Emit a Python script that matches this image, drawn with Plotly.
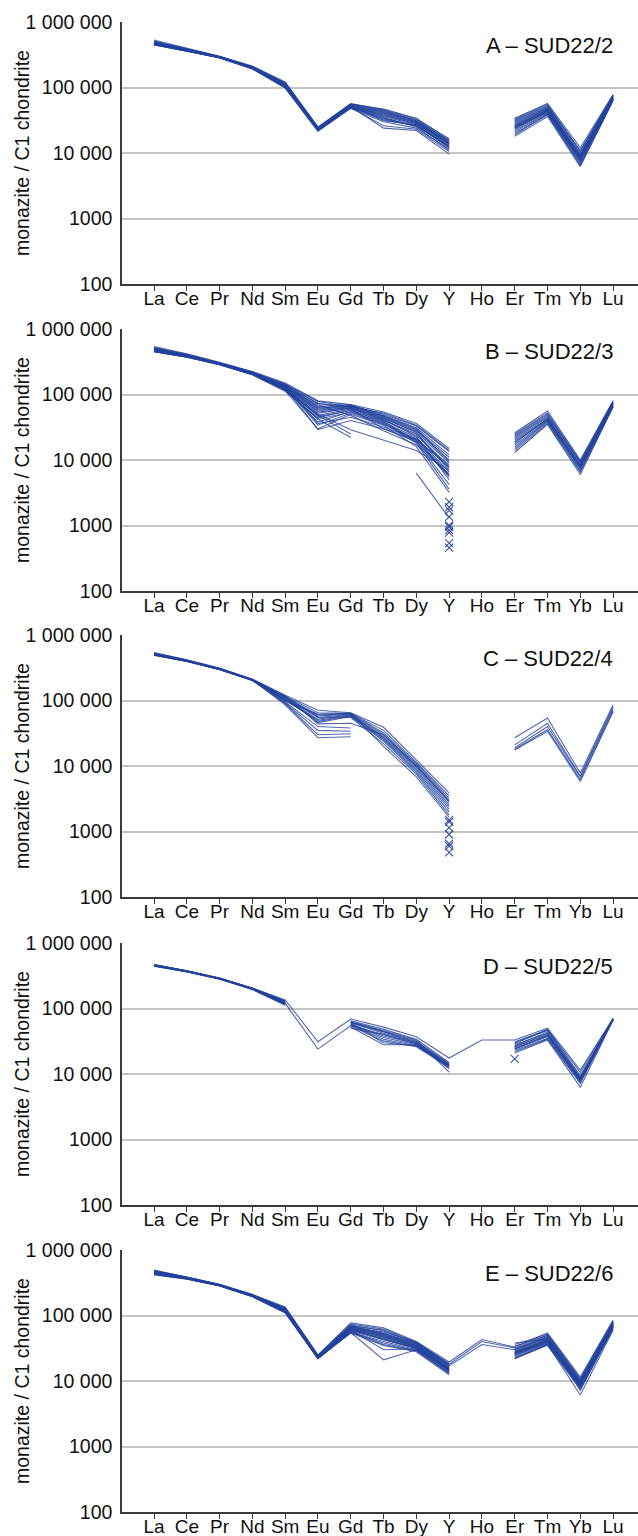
import plotly.graph_objects as go

# Chondrite-normalised REE + Y patterns of monazite, five samples.
ELEMENTS = ["La", "Ce", "Pr", "Nd", "Sm", "Eu", "Gd", "Tb", "Dy", "Y",
            "Ho", "Er", "Tm", "Yb", "Lu"]

Y_TICK_VALUES = [100, 1000, 10000, 100000, 1000000]
Y_TICK_LABELS = ["100", "1000", "10 000", "100 000", "1 000 000"]

SAMPLE_LABELS = ["A – SUD22/2", "B – SUD22/3", "C – SUD22/4",
                 "D – SUD22/5", "E – SUD22/6"]

# Normalised values in thousands; None = not determined.
# order: La Ce Pr Nd Sm Eu Gd Tb Dy Y Ho Er Tm Yb Lu
N = None
SUD22_2 = [
    [470, 372, 290, 200, 108, 23, 52, 38, 28, 13.5, N, 26, 45, 8.5, 70],
    [455, 365, 286, 196, 102, 22, 50, 34, 26, 12.5, N, 24, 42, 8.0, 68],
    [500, 385, 296, 206, 115, 24, 55, 42, 30, 14.5, N, 28, 48, 9.0, 72],
    [530, 395, 300, 212, 122, 25, 57, 46, 33, 16.5, N, 33, 55, 10.5, 77],
    [445, 360, 282, 192, 98, 21.5, 48, 30, 24, 11.5, N, 21, 40, 7.2, 66],
    [480, 375, 292, 202, 110, 23.5, 53, 40, 29, 14, N, 27, 47, 8.8, 71],
    [465, 370, 288, 198, 105, 22.5, 51, 36, 27, 13, N, 25, 44, 8.2, 69],
    [490, 380, 294, 204, 112, 24, 54, 44, 31, 15, N, 30, 50, 9.5, 74],
    [450, 362, 284, 194, 100, 22, 49, 26, 23, 10.5, N, 19, 39, 6.5, 64],
    [475, 373, 291, 201, 109, 23, 52, 37, 28, 13.8, N, 25, 46, 8.6, 70],
    [460, 368, 287, 197, 104, 22.5, 50, 33, 26, 12.8, N, 23, 43, 7.8, 67],
    [510, 388, 297, 208, 118, 24.5, 56, 45, 32, 15.5, N, 31, 52, 10, 75],
    [470, 371, 289, 199, 107, 23, 52, 31, 27, 12, N, 22, 41, 7.5, 68],
    [485, 378, 293, 203, 111, 23.5, 53, 41, 30, 14.2, N, 29, 49, 9.2, 73],
    [458, 366, 285, 195, 103, 22, 50, 35, 25, 11, N, 20, 38, 6.8, 65],
    [495, 383, 295, 205, 114, 24, 55, 43, 31, 15.2, N, 32, 53, 11, 76],
    [468, 370, 289, 199, 106, 22.8, 51, 24, 22, 9.6, N, 18, 36, 6.2, 63],
    [478, 376, 292, 201, 110, 23.2, 52, 39, 29, 14, N, 26, 45, 8.4, 70],
    [452, 363, 284, 193, 100, 21.8, 49, 32, 26, 12.2, N, 24, 43, 7.6, 67],
    [505, 386, 297, 207, 117, 24.2, 56, 47, 34, 16, N, 34, 57, 12, 78],
]

SUD22_3 = [
    [540, 420, 310, 225, 150, 80, 70, 54, 36, 15, N, 26, 56, 10, 80],
    [520, 410, 305, 220, 145, 72, 68, 50, 33, 13.5, N, 24, 50, 9.0, 76],
    [500, 400, 300, 216, 140, 66, 69, 48, 31, 12, N, 22, 46, 8.6, 74],
    [490, 395, 298, 214, 135, 62, 67, 46, 29, 11, N, 21, 44, 8.3, 72],
    [480, 390, 295, 210, 130, 60, 66, 45, 28, 10, N, 20, 42, 8.0, 71],
    [470, 385, 292, 208, 126, 56, 64, 43, 27, 9, N, 19, 41, 7.8, 70],
    [460, 380, 290, 205, 122, 52, 62, 41, 25, 8, N, 17, 40, 7.5, 68],
    [455, 375, 288, 203, 118, 48, 60, 40, 24, 7.5, N, 16, 39, 7.2, 67],
    [450, 370, 285, 200, 112, 44, 58, 38, 22, 6.5, N, 15, 38, 6.8, 66],
    [465, 382, 291, 206, 124, 38, 55, 36, 21, 6, N, 14, 36, 6.5, 65],
    [475, 388, 294, 209, 128, 34, 52, 35, 20, 5.5, N, 13, 35, 6.0, 65],
    [510, 402, 302, 218, 142, 64, 66, 47, 30, 9.5, N, 23, 48, 9.2, 78],
    [495, 396, 299, 213, 133, 58, 63, 44, 26, 7, N, 18, 43, 8.1, 73],
    [485, 392, 296, 211, 131, 54, 61, 42, 23, 5, N, N, N, N, N],
    [470, 386, 293, 207, 127, 46, 57, 39, 19, 4.2, N, N, N, N, N],
    [460, 379, 290, 204, 121, 42, 54, 37, 18, 3.6, N, N, N, N, N],
    [450, 372, 286, 201, 115, 30, 50, 34, 16, 3.2, N, N, N, N, N],
    [500, 398, 300, 214, 136, 74, 60, 30, 20, 8.5, N, N, N, N, N],
    [480, 389, 295, 209, 129, 70, 48, 28, 17, 6, N, N, N, N, N],
    [465, 381, 291, 205, 123, 48, 25, N, N, N, N, N, N, N, N],
    [455, 376, 288, 202, 117, 42, 22, N, N, N, N, N, N, N, N],
    [470, 384, 292, 206, 125, 50, 29, 20, 14, 7, N, N, N, N, N],
    [490, 394, 297, 212, 134, 36, 45, 32, 21, 7.8, N, N, N, N, N],
    [515, 405, 303, 219, 144, 78, 65, 52, 34, 14, N, 25, 52, 9.6, 79],
    [475, 387, 293, 208, 128, 29, 40, 30, 19, 5.8, N, N, N, N, N],
    [N, N, N, N, N, N, N, N, 6.3, 1.3, N, N, N, N, N],
]
SUD22_3_Y_BDL = [2.3, 1.9, 1.7, 1.35, 1.0, 0.95, 0.85, 0.78, 0.54, 0.46]

SUD22_4 = [
    [540, 420, 312, 212, 120, 71, 65, 39, 12.4, 3.9, N, 27, 54, 7.8, 86],
    [530, 415, 308, 210, 116, 65, 64, 35, 11.5, 3.5, N, 21, 45, 7.0, 80],
    [520, 410, 305, 208, 112, 60, 63, 32, 11, 3.2, N, 19, 40, 6.8, 75],
    [510, 405, 302, 206, 108, 58, 62, 30, 10.5, 3.0, N, 18, 36, 6.2, 70],
    [500, 400, 300, 205, 105, 55, 61, 28, 10, 2.8, N, 17.5, 34, 5.8, 67],
    [495, 398, 298, 204, 102, 52, 60, 27, 9.5, 2.6, N, N, N, N, N],
    [490, 395, 296, 203, 100, 50, 59, 26, 9, 2.4, N, N, N, N, N],
    [505, 402, 301, 205, 104, 48, 58, 25, 8.5, 2.2, N, N, N, N, N],
    [515, 408, 304, 207, 110, 46, 57, 24, 8, 2.0, N, N, N, N, N],
    [525, 412, 306, 209, 114, 56, 55, 22, 7.5, 1.8, N, N, N, N, N],
    [500, 400, 300, 205, 98, 62, 64, 20, 6.8, 1.65, N, N, N, N, N],
    [520, 409, 305, 208, 118, 44, 45, 30, 10, 2.9, N, N, N, N, N],
    [495, 397, 299, 204, 95, 40, 38, N, N, N, N, N, N, N, N],
    [490, 394, 297, 202, 92, 35, 34, N, N, N, N, N, N, N, N],
    [510, 404, 302, 206, 90, 30, 31, N, N, N, N, N, N, N, N],
    [500, 399, 300, 204, 86, 27, 28, N, N, N, N, N, N, N, N],
]
SUD22_4_Y_BDL = [1.5, 1.4, 1.15, 0.9, 0.65, 0.6, 0.48]

SUD22_5 = [
    [470, 378, 292, 205, 135, 31, 69, 52, 37, 17.5, 33, 33, 50, 11.5, 70],
    [455, 370, 286, 200, 120, 24, 55, 40, 30, 14, N, 28, 42, 8.5, 69],
    [460, 372, 288, 202, 125, N, 65, 48, 34, 15, N, 30, 46, 9, 69],
    [450, 366, 284, 198, 118, N, 62, 45, 32, 14.5, N, 27, 44, 8.7, 69],
    [465, 374, 289, 203, 128, N, 60, 42, 31, 14, N, 26, 40, 8.2, 69],
    [445, 364, 282, 196, 115, N, 58, 38, 29, 13.5, N, 25, 38, 8, 69],
    [458, 370, 287, 201, 122, N, 57, 36, 28, 13, N, 24, 37, 7.8, 68],
    [462, 373, 288, 202, 126, N, 56, 34, 27, 12.8, N, 23, 35, 7.5, 68],
    [448, 365, 283, 197, 116, N, 54, 32, 26, 12.5, N, 22, 34, 7.2, 68],
    [470, 377, 291, 204, 130, N, 59, 30, 27, 13.2, N, 21, 33, 6.3, 67],
    [452, 367, 285, 199, 119, N, 52, 28, 28, 13.8, N, 29, 48, 10.5, 70],
    [456, 369, 286, 200, 121, N, 61, 44, 30, 12, N, 26, 41, 8.4, 69],
    [466, 375, 290, 204, 131, N, 63, 46, 33, 10.7, N, 31, 47, 9.5, 70],
    [444, 362, 281, 195, 112, N, 50, 40, 29, 13.6, N, 24, 39, 8.1, 69],
]
SUD22_5_ER_BDL = [17]

SUD22_6 = [
    [495, 390, 300, 210, 135, 25, 77, 65, 40, 19.5, 43, 33, 54, 11.5, 85],
    [480, 384, 296, 206, 130, 24.5, 72, 58, 38, 18, 40, 32, 50, 10.5, 80],
    [470, 380, 294, 204, 128, 24, 70, 54, 37, 17, 36, 30, 48, 10, 78],
    [460, 376, 292, 202, 125, 23.5, 68, 52, 36, 16.5, N, 29, 46, 9.5, 76],
    [455, 374, 290, 201, 122, 23, 66, 50, 35, 16, N, 28, 44, 9.2, 74],
    [450, 372, 289, 200, 120, 23, 64, 48, 34, 15.5, N, 27, 42, 9, 72],
    [445, 370, 288, 199, 118, 22.5, 62, 46, 33, 15, N, 26, 40, 8.7, 70],
    [440, 368, 287, 198, 116, 22.5, 60, 44, 32, 14.5, N, 25, 39, 8.5, 68],
    [435, 366, 286, 197, 114, 22, 58, 42, 31, 14, N, 24, 38, 8.2, 66],
    [430, 364, 285, 196, 112, 22, 56, 40, 30, 13.5, N, 23, 37, 8, 64],
    [425, 362, 284, 195, 110, 22, 55, 38, 29, 13, N, 22, 35, 7.5, 62],
    [415, 358, 282, 193, 110, 22, 54, 35, 28, 12.4, N, 22, 36, 6.1, 60],
    [475, 382, 295, 205, 127, 24, 66, 56, 39, 17.5, N, 31, 47, 9.8, 77],
    [465, 378, 293, 203, 124, 23.5, 67, 53, 37, 16.8, N, 30, 45, 9.4, 75],
    [458, 375, 291, 202, 122, 23, 65, 51, 35, 15.8, N, 28, 43, 9.1, 73],
    [448, 371, 289, 200, 119, 22.8, 63, 49, 34, 15.2, N, 27, 41, 8.8, 71],
    [442, 369, 288, 199, 117, 22.5, 61, 47, 33, 14.8, N, 26, 40, 8.6, 69],
    [438, 367, 287, 198, 115, 22.3, 59, 45, 32, 14.2, N, 25, 39, 8.4, 67],
    [452, 373, 290, 201, 121, 23, 55, 21, 30, 14.6, N, 26, 41, 8.9, 71],
    [462, 377, 292, 202, 123, 23.2, 60, 30, 31, 15.1, N, 27, 42, 9, 72],
    [472, 381, 294, 204, 126, 23.8, 69, 60, 38, 17.8, N, 34, 50, 10.2, 79],
    [485, 386, 297, 207, 131, 24.2, 74, 62, 39, 18.5, N, 36, 52, 11, 82],
    [430, 364, 285, 196, 111, 22, 57, 36, 29, 13.2, N, 38, 44, 7.2, 65],
    [458, 374, 291, 201, 121, 23, 62, 43, 32, 14.4, N, 22, 36, 7.8, 68],
]

THOUSAND = 1000

PANELS = [
    (SUD22_2, None, None),
    (SUD22_3, "Y", SUD22_3_Y_BDL),
    (SUD22_4, "Y", SUD22_4_Y_BDL),
    (SUD22_5, "Er", SUD22_5_ER_BDL),
    (SUD22_6, None, None),
]

# ---- layout geometry (pixels) ----
W, H = 638, 1536
PLOT_LEFT = 122
PANEL_TOPS = [22, 329, 635, 943, 1250]
PANEL_H = 262

LINE_COLOR = "rgba(36,66,156,0.8)"
MARK_COLOR = "rgba(36,66,156,0.9)"
AXIS_COLOR = "#3a3a3a"
GRID_COLOR = "#c4c4c4"
FONT = "Liberation Sans, Arial, Helvetica, sans-serif"

fig = go.Figure()

layout = dict(
    width=W, height=H,
    margin=dict(l=0, r=0, t=0, b=0, autoexpand=False),
    paper_bgcolor="white", plot_bgcolor="white",
    showlegend=False,
    font=dict(family=FONT, size=19, color="#111111"),
    annotations=[],
)

for i, (rows, bdl_elem, bdl_vals) in enumerate(PANELS):
    n = i + 1
    xa = "x" if n == 1 else f"x{n}"
    ya = "y" if n == 1 else f"y{n}"
    for row in rows:
        fig.add_trace(go.Scatter(
            x=ELEMENTS,
            y=[v * THOUSAND if v is not None else None for v in row],
            mode="lines", line=dict(color=LINE_COLOR, width=1.1),
            connectgaps=False, hoverinfo="skip",
            xaxis=xa, yaxis=ya,
        ))
    if bdl_vals:
        fig.add_trace(go.Scatter(
            x=[bdl_elem] * len(bdl_vals),
            y=[v * THOUSAND for v in bdl_vals],
            mode="markers",
            marker=dict(symbol="x-thin", size=8,
                        line=dict(color=MARK_COLOR, width=1.1)),
            hoverinfo="skip", xaxis=xa, yaxis=ya,
        ))

    top = PANEL_TOPS[i]
    dom = [1 - (top + PANEL_H) / H, 1 - top / H]
    xkey = "xaxis" if n == 1 else f"xaxis{n}"
    ykey = "yaxis" if n == 1 else f"yaxis{n}"
    layout[xkey] = dict(
        domain=[PLOT_LEFT / W, 1], anchor=ya,
        type="category", categoryorder="array", categoryarray=ELEMENTS,
        tickmode="array", tickvals=ELEMENTS, ticktext=ELEMENTS,
        range=[-0.976, 14.76],
        showgrid=False, zeroline=False,
        showline=True, linecolor=AXIS_COLOR, linewidth=1.5,
        ticks="outside", ticklen=5, tickwidth=1.3, tickcolor=AXIS_COLOR,
        ticklabelstandoff=-9,
        tickfont=dict(family=FONT, size=19, color="#111111"),
        automargin=False, fixedrange=True,
    )
    layout[ykey] = dict(
        domain=dom, anchor=xa, type="log", range=[2, 6],
        tickmode="array", tickvals=Y_TICK_VALUES, ticktext=Y_TICK_LABELS,
        showgrid=True, gridcolor=GRID_COLOR, gridwidth=1.5,
        zeroline=False,
        showline=True, linecolor=AXIS_COLOR, linewidth=1.5,
        ticks="", ticklabelstandoff=4,
        tickfont=dict(family=FONT, size=19.5, color="#111111"),
        automargin=False, fixedrange=True,
    )
    layout["annotations"].append(dict(
        text=SAMPLE_LABELS[i], xref="paper", yref="paper",
        x=615 / W, y=1 - (top + 23) / H, xanchor="right", yanchor="middle",
        showarrow=False, font=dict(family=FONT, size=22, color="#111111"),
    ))
    layout["annotations"].append(dict(
        text="monazite / C1 chondrite", xref="paper", yref="paper",
        x=22 / W, y=1 - (top + PANEL_H / 2) / H,
        xanchor="center", yanchor="middle", textangle=-90,
        showarrow=False, font=dict(family=FONT, size=19.5, color="#111111"),
    ))

fig.update_layout(**layout)
fig.write_html("out.html")
